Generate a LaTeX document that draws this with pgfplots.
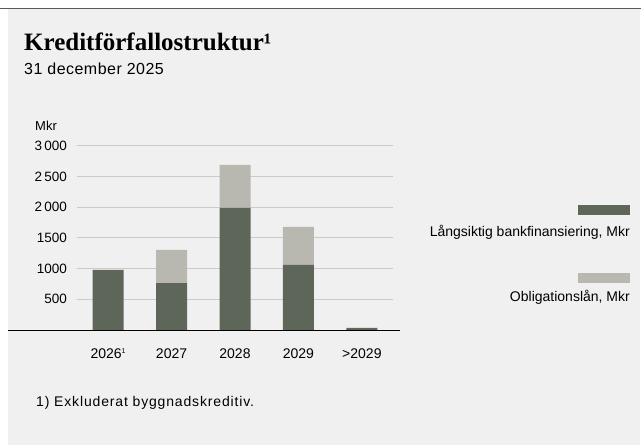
\documentclass[border=0pt]{standalone}
\usepackage{fontspec}
\setmainfont{Liberation Sans}
\newfontfamily\titlefont{Liberation Serif}
\newfontfamily\trackfont[LetterSpace=6]{Liberation Sans}
\newfontfamily\subfont[LetterSpace=3]{Liberation Sans}
\usepackage{pgfplots}
\pgfplotsset{compat=1.18}
\definecolor{bank}{HTML}{5E6659}
\definecolor{bond}{HTML}{B8B8B0}
\definecolor{bg}{HTML}{F0F0F0}
\definecolor{gridc}{HTML}{CACACA}

% maturity per year, Mkr
\pgfplotstableread{
x bank bond
0 980 0
1 765 540
2 1990 700
3 1060 620
4 35 0
}\maturity

\begin{document}
\begin{tikzpicture}[x=1pt,y=1pt]
\path[use as bounding box] (0,0) rectangle (641,-445);
\fill[bg] (8,-9) rectangle (640,-445);
\draw[line width=1.6pt, draw=black!65] (0,-8.5) -- (641,-8.5);

\node[anchor=base west, inner sep=0pt, font=\titlefont\bfseries\fontsize{25}{30}\selectfont] at (24,-50) {Kreditförfallostruktur¹};
\node[anchor=base west, inner sep=0pt, font=\subfont\fontsize{16}{19}\selectfont] at (24,-74) {31 december 2025};
\node[anchor=base west, inner sep=0pt, font=\fontsize{13}{15}\selectfont] at (35,-130) {Mkr};

\begin{axis}[
  at={(77pt,-330pt)}, anchor=south west,
  scale only axis, width=316pt, height=184.3pt,
  xmin=-0.49, xmax=4.49, ymin=0, ymax=3000,
  ybar stacked, bar width=31pt,
  axis x line*=bottom, axis y line*=left,
  axis line style={draw=none},
  major tick length=0pt,
  ytick={500,1000,1500,2000,2500,3000},
  yticklabels={500,1000,1500,{2\,000},{2\,500},{3\,000}},
  xtick={0,1,2,3,4},
  xticklabels={2026\raisebox{5pt}{\fontsize{7}{7}\selectfont 1},2027,2028,2029,>2029},
  ymajorgrids, grid style={gridc, line width=1pt},
  yticklabel style={font=\fontsize{13.5}{16}\selectfont, anchor=east, inner sep=0pt, xshift=-10pt},
  xticklabel style={font=\fontsize{14}{17}\selectfont, anchor=base, inner sep=0pt, yshift=-28pt},
]
\addplot[fill=bank, draw=none] table[x=x, y=bank] {\maturity};
\addplot[fill=bond, draw=none] table[x=x, y=bond] {\maturity};
\end{axis}
\draw[line width=1pt] (8,-330) -- (400,-330);

% legend
\fill[bank] (578,-205) rectangle (630,-215);
\node[anchor=base east, inner sep=0pt, font=\fontsize{14}{17}\selectfont] at (630,-236.7) {Långsiktig bankfinansiering, Mkr};
\fill[bond] (578,-273) rectangle (630,-283);
\node[anchor=base east, inner sep=0pt, font=\fontsize{14}{17}\selectfont] at (630,-301.7) {Obligationslån, Mkr};

\node[anchor=base west, inner sep=0pt, font=\trackfont\fontsize{14}{17}\selectfont] at (36,-406.7) {1) Exkluderat byggnadskreditiv.};
\end{tikzpicture}
\end{document}
